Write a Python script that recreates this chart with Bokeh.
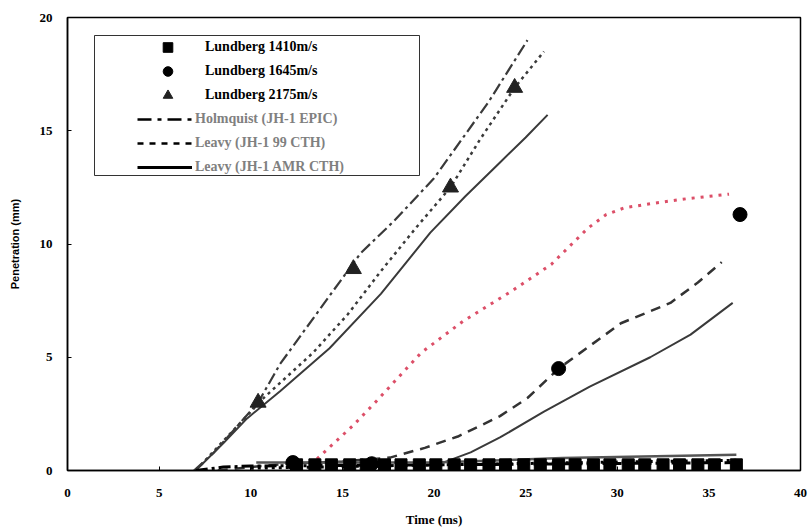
from bokeh.plotting import figure
from bokeh.models import Range1d, Legend, LegendItem, BoxAnnotation, FixedTicker
from bokeh.embed import file_html
from bokeh.resources import INLINE

NAN = float("nan")

# ---------------- data ----------------
x_ticks = [0, 5, 10, 15, 20, 25, 30, 35, 40]
y_ticks = [0, 5, 10, 15, 20]

# Lundberg experiments
sq1410_t = [12.5, 13.5, 14.4, 15.4, 16.3, 17.3, 18.2, 19.2, 20.1, 21.1, 22.0, 23.0, 23.9,
            24.9, 25.8, 26.8, 27.7, 28.7, 29.6, 30.6, 31.5, 32.5, 33.4, 34.4, 35.3, 36.5]
sq1410_p = [0.25, 0.25, 0.25, 0.25, 0.25, 0.25, 0.25, 0.25, 0.25, 0.25, 0.25, 0.25, 0.25,
            0.25, 0.25, 0.25, 0.25, 0.25, 0.25, 0.25, 0.25, 0.25, 0.25, 0.25, 0.25, 0.25]
ci1645_t = [12.3, 16.6, 26.8, 36.7]
ci1645_p = [0.35, 0.3, 4.5, 11.3]
tr2175_t = [10.4, 15.6, 20.9, 24.4]
tr2175_p = [3.0, 8.9, 12.5, 16.9]

# 2175 m/s simulations
h2175_t = [6.9, 8.0, 10.4, 11.6, 14.2, 16.0, 17.8, 20.0, 23.0, 25.1]
h2175_p = [0.0, 0.8, 3.0, 4.7, 7.6, 9.6, 11.0, 12.9, 16.3, 19.0]
l99_2175_t = [7.0, 8.5, 10.7, 13.4, 15.3, 17.1, 19.0, 20.9, 22.5, 24.4, 26.0]
l99_2175_p = [0.0, 1.3, 3.2, 5.2, 6.9, 8.8, 10.7, 12.5, 14.6, 16.9, 18.5]
amr2175_t = [7.0, 8.5, 9.8, 11.6, 14.3, 17.1, 19.8, 21.7, 23.6, 25.0, 26.2]
amr2175_p = [0.0, 1.2, 2.3, 3.5, 5.4, 7.8, 10.5, 12.1, 13.6, 14.7, 15.7]

# 1645 m/s simulations
h1645_t = [8.2, 10.0, 12.0, 15.0, 17.6, 19.5, 21.3, 23.6, 25.1, 26.8, 28.5, 30.2, 32.9, 34.4, 35.7]
h1645_p = [0.0, 0.15, 0.3, 0.4, 0.57, 1.0, 1.5, 2.4, 3.2, 4.5, 5.5, 6.5, 7.4, 8.3, 9.2]
l99_1645_t = [13.3, 13.6, 15.6, 16.9, 19.3, 21.6, 24.2, 26.4, 28.4, 29.4, 30.4, 32.0, 33.8, 36.1]
l99_1645_p = [0.2, 0.5, 2.0, 3.1, 5.2, 6.6, 7.9, 9.1, 10.7, 11.3, 11.6, 11.8, 12.0, 12.2]
amr1645_t = [20.5, 22.0, 23.6, 26.0, 28.5, 31.8, 34.0, 36.3]
amr1645_p = [0.35, 0.8, 1.46, 2.6, 3.7, 5.0, 6.0, 7.4]

# 1410 m/s simulations
h1410_t = [7.0, 8.5, 10.0, 20.0, 36.5]
h1410_p = [0.0, 0.15, 0.2, 0.25, 0.35]
l99_1410_t = [10.0, 20.0, 36.5]
l99_1410_p = [0.1, 0.25, 0.45]
amr1410_t = [10.3, 20.0, 27.0, 36.5]
amr1410_p = [0.35, 0.35, 0.55, 0.7]

legend_markers = ["Lundberg 1410m/s", "Lundberg 1645m/s", "Lundberg 2175m/s"]
legend_lines = ["Holmquist (JH-1 EPIC)", "Leavy (JH-1 99 CTH)", "Leavy (JH-1 AMR CTH)"]

# ---------------- figure ----------------
p = figure(width=810, height=529, output_backend="svg", toolbar_location=None,
           x_range=Range1d(0, 40), y_range=Range1d(0, 20),
           min_border_left=67, min_border_right=10, min_border_top=17, min_border_bottom=59)
p.background_fill_color = "white"
p.border_fill_color = "white"
p.outline_line_color = "black"
p.outline_line_width = 1.5
p.grid.visible = False

for ax in (p.xaxis[0], p.yaxis[0]):
    ax.axis_line_color = "black"
    ax.axis_line_width = 1.5
    ax.major_tick_in = 4
    ax.major_tick_out = 0
    ax.major_tick_line_color = "black"
    ax.minor_tick_line_color = None
    ax.major_label_text_font = "Liberation Serif"
    ax.major_label_text_font_style = "bold"
    ax.major_label_text_font_size = "13px"
    ax.major_label_text_color = "black"
    ax.axis_label_text_color = "black"

p.xaxis.ticker = FixedTicker(ticks=x_ticks)
p.yaxis.ticker = FixedTicker(ticks=y_ticks)
p.xaxis.major_label_standoff = 18
p.yaxis.major_label_standoff = 15

p.xaxis.axis_label = "Time (ms)"
p.xaxis.axis_label_text_font = "Liberation Serif"
p.xaxis.axis_label_text_font_style = "bold"
p.xaxis.axis_label_text_font_size = "13px"
p.xaxis.axis_label_standoff = 12
p.yaxis.axis_label = "Penetration (mm)"
p.yaxis.axis_label_text_font = "Liberation Sans"
p.yaxis.axis_label_text_font_style = "bold"
p.yaxis.axis_label_text_font_size = "11px"
p.yaxis.axis_label_standoff = 16

GRAY = "#3a3a3a"
DASHDOT = "12 4 3 4"
DOTS = "3 4"

# 2175 m/s
p.line(h2175_t, h2175_p, line_color=GRAY, line_width=2.2, line_dash=DASHDOT)
p.line(l99_2175_t, l99_2175_p, line_color=GRAY, line_width=2.5, line_dash=DOTS)
p.line(amr2175_t, amr2175_p, line_color=GRAY, line_width=2)

# 1645 m/s
p.line(h1645_t, h1645_p, line_color="#333333", line_width=2.5, line_dash="10 7")
p.line(l99_1645_t, l99_1645_p, line_color="#dc4f68", line_width=3, line_dash="3 6")
p.line(amr1645_t, amr1645_p, line_color=GRAY, line_width=2)

# 1410 m/s
p.line(h1410_t, h1410_p, line_color="black", line_width=3, line_dash=DASHDOT)
p.line(l99_1410_t, l99_1410_p, line_color="black", line_width=3, line_dash=DOTS)
p.line(amr1410_t, amr1410_p, line_color="#555555", line_width=2.5)

# experimental markers
r_sq = p.scatter(sq1410_t, sq1410_p, marker="square", size=12, fill_color="black", line_color="black")
r_ci = p.scatter(ci1645_t, ci1645_p, marker="circle", size=14, fill_color="black", line_color="black")
r_tr = p.scatter(tr2175_t, tr2175_p, marker="triangle", size=16, fill_color="#222222", line_color="#222222")

# legend-only line renderers (no visible data)
r_lh = p.line(x=[NAN], y=[NAN], line_color="black", line_width=2.5, line_dash="14 6 4 6")
r_l99 = p.line(x=[NAN], y=[NAN], line_color="black", line_width=2.5, line_dash="6 6")
r_amr = p.line(x=[NAN], y=[NAN], line_color="black", line_width=3)

box = BoxAnnotation(left=94, right=419, top=35, bottom=175,
                    left_units="canvas", right_units="canvas",
                    top_units="canvas", bottom_units="canvas",
                    fill_color="white", fill_alpha=1.0,
                    line_color="black", line_width=1, line_alpha=0.8)
p.add_layout(box)


def make_legend(items, loc, color, standoff):
    lg = Legend(items=items, location=loc, orientation="vertical",
                padding=0, margin=0, spacing=0,
                glyph_width=55, glyph_height=24, label_height=24,
                label_standoff=standoff,
                label_text_font="Liberation Serif", label_text_font_style="bold",
                label_text_font_size="14px", label_text_color=color,
                border_line_color=None, background_fill_alpha=0)
    return lg


lg_a = make_legend([LegendItem(label=legend_markers[0], renderers=[r_sq]),
                    LegendItem(label=legend_markers[1], renderers=[r_ci]),
                    LegendItem(label=legend_markers[2], renderers=[r_tr])],
                   (73, 363), "black", 10)
lg_b = make_legend([LegendItem(label=legend_lines[0], renderers=[r_lh]),
                    LegendItem(label=legend_lines[1], renderers=[r_l99]),
                    LegendItem(label=legend_lines[2], renderers=[r_amr])],
                   (70, 291), "#808080", 3)
p.add_layout(lg_a)
p.add_layout(lg_b)

open("out.html", "w").write(file_html(p, INLINE))
